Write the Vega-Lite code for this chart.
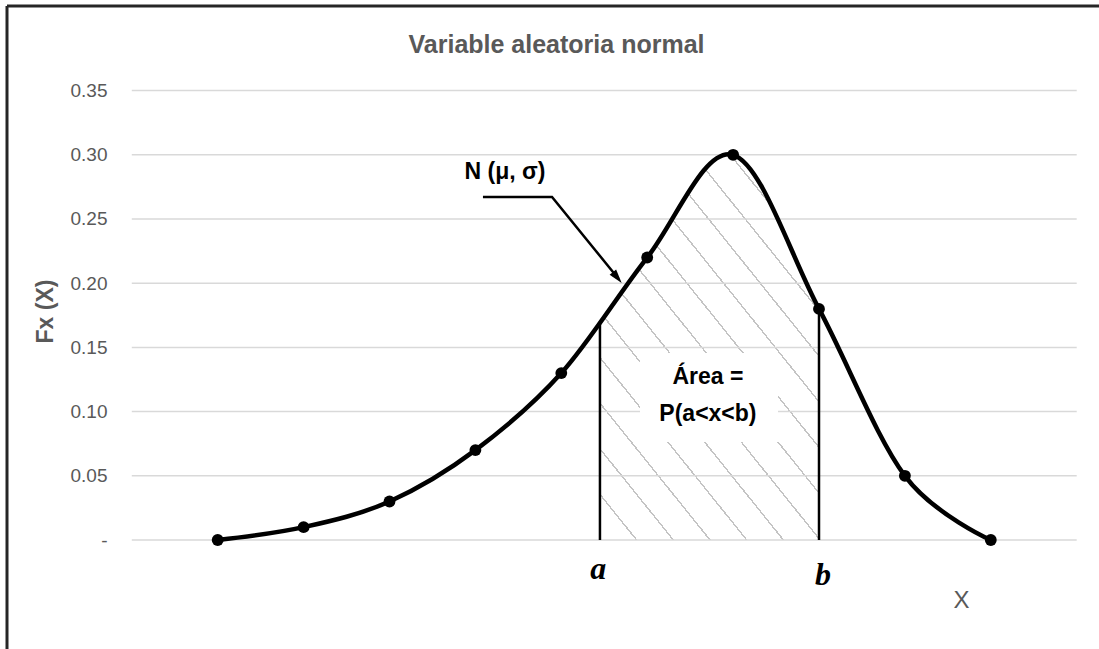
{
  "$schema": "https://vega.github.io/schema/vega-lite/v6.json",
  "width": 1099,
  "height": 649,
  "padding": 0,
  "autosize": {"type": "none"},
  "background": "white",
  "config": {"view": {"stroke": null}},
  "title": {"text": "Variable aleatoria normal", "anchor": "middle", "offset": -78, "baseline": "alphabetic", "fontSize": 25, "font": "Liberation Sans", "fontWeight": "bold", "color": "#595959", "dx": 7},
  "datasets": {
    "curve": [
      {"x": 1, "y": 0.0},
      {"x": 2, "y": 0.01},
      {"x": 3, "y": 0.03},
      {"x": 4, "y": 0.07},
      {"x": 5, "y": 0.13},
      {"x": 6, "y": 0.22},
      {"x": 7, "y": 0.30},
      {"x": 8, "y": 0.18},
      {"x": 9, "y": 0.05},
      {"x": 10, "y": 0.0}
    ],
    "region": [
      {"x": 5.45, "y": 0.169},
      {"x": 6, "y": 0.22},
      {"x": 7, "y": 0.30},
      {"x": 8, "y": 0.18}
    ],
    "bounds": [
      {"x": 5.45, "y": 0, "y2": 0.168},
      {"x": 8.0, "y": 0, "y2": 0.18}
    ],
    "grid": [
      {"x": 0, "x2": 11, "y": 0},
      {"x": 0, "x2": 11, "y": 0.05},
      {"x": 0, "x2": 11, "y": 0.10},
      {"x": 0, "x2": 11, "y": 0.15},
      {"x": 0, "x2": 11, "y": 0.20},
      {"x": 0, "x2": 11, "y": 0.25},
      {"x": 0, "x2": 11, "y": 0.30},
      {"x": 0, "x2": 11, "y": 0.35}
    ],
    "frame": [
      {"x": -1.4528, "x2": 11.4, "y": 0.4159, "y2": 0.4159},
      {"x": -1.4528, "x2": -1.4528, "y": -0.1, "y2": 0.4159}
    ],
    "box": [
      {"x": 5.916, "x2": 7.523, "y": 0.0763, "y2": 0.1456}
    ],
    "leader": [
      {"o": 1, "x": 4.088, "y": 0.2671},
      {"o": 2, "x": 4.892, "y": 0.2671},
      {"o": 3, "x": 5.668, "y": 0.2033}
    ],
    "tip": [
      {"x": 5.703, "y": 0.2002}
    ],
    "boldText": [
      {"label": "N (μ, σ)", "x": 4.345, "y": 0.2866},
      {"label": "Área =", "x": 6.707, "y": 0.1266},
      {"label": "P(a<x<b)", "x": 6.707, "y": 0.0981}
    ],
    "mathText": [
      {"label": "a", "x": 5.43, "y": -0.0306},
      {"label": "b", "x": 8.046, "y": -0.035}
    ]
  },
  "encoding": {
    "x": {
      "field": "x", "type": "quantitative",
      "scale": {"domain": [-1.5343, 11.2596], "nice": false, "zero": false},
      "axis": {"labels": false, "ticks": false, "domain": false, "grid": false, "title": "X", "titleX": 961, "titleY": -49, "titleFont": "Liberation Sans", "titleFontSize": 24, "titleFontWeight": "normal", "titleColor": "#595959", "titleBaseline": "middle", "titleAlign": "center"}
    },
    "y": {
      "field": "y", "type": "quantitative",
      "scale": {"domain": [-0.08489, 0.42056], "nice": false, "zero": false},
      "axis": {
        "values": [0, 0.05, 0.1, 0.15, 0.2, 0.25, 0.3, 0.35],
        "labelExpr": "datum.value == 0 ? '-' : format(datum.value, '.2f')",
        "offset": -107, "domain": false, "ticks": false, "tickSize": 0, "labelPadding": 0, "grid": false,
        "labelFont": "Liberation Sans", "labelFontSize": 19, "labelColor": "#595959",
        "title": "Fx (X)", "titleFont": "Liberation Sans", "titleFontSize": 23, "titleFontWeight": "bold", "titleColor": "#595959",
        "titleX": -62, "titleY": 311, "titleAngle": 270, "titleAlign": "center", "titleBaseline": "middle"
      }
    }
  },
  "layer": [
    {
      "data": {"name": "region"},
      "mark": {
        "type": "area", "interpolate": "cardinal",
        "fill": {
          "gradient": "linear", "x1": 0, "y1": 1, "x2": 0.8034, "y2": -0.1387,
          "stops": [
            {"offset": 0, "color": "#ffffff"},
            {"offset": 0.06755, "color": "#ffffff"}, {"offset": 0.06755, "color": "#c4c4c4"}, {"offset": 0.07105, "color": "#c4c4c4"}, {"offset": 0.07105, "color": "#ffffff"},
            {"offset": 0.13685, "color": "#ffffff"}, {"offset": 0.13685, "color": "#c4c4c4"}, {"offset": 0.14035, "color": "#c4c4c4"}, {"offset": 0.14035, "color": "#ffffff"},
            {"offset": 0.20615, "color": "#ffffff"}, {"offset": 0.20615, "color": "#c4c4c4"}, {"offset": 0.20965, "color": "#c4c4c4"}, {"offset": 0.20965, "color": "#ffffff"},
            {"offset": 0.27545, "color": "#ffffff"}, {"offset": 0.27545, "color": "#c4c4c4"}, {"offset": 0.27895, "color": "#c4c4c4"}, {"offset": 0.27895, "color": "#ffffff"},
            {"offset": 0.34475, "color": "#ffffff"}, {"offset": 0.34475, "color": "#c4c4c4"}, {"offset": 0.34825, "color": "#c4c4c4"}, {"offset": 0.34825, "color": "#ffffff"},
            {"offset": 0.41405, "color": "#ffffff"}, {"offset": 0.41405, "color": "#c4c4c4"}, {"offset": 0.41755, "color": "#c4c4c4"}, {"offset": 0.41755, "color": "#ffffff"},
            {"offset": 0.48335, "color": "#ffffff"}, {"offset": 0.48335, "color": "#c4c4c4"}, {"offset": 0.48685, "color": "#c4c4c4"}, {"offset": 0.48685, "color": "#ffffff"},
            {"offset": 0.55265, "color": "#ffffff"}, {"offset": 0.55265, "color": "#c4c4c4"}, {"offset": 0.55615, "color": "#c4c4c4"}, {"offset": 0.55615, "color": "#ffffff"},
            {"offset": 0.62195, "color": "#ffffff"}, {"offset": 0.62195, "color": "#c4c4c4"}, {"offset": 0.62545, "color": "#c4c4c4"}, {"offset": 0.62545, "color": "#ffffff"},
            {"offset": 0.69125, "color": "#ffffff"}, {"offset": 0.69125, "color": "#c4c4c4"}, {"offset": 0.69475, "color": "#c4c4c4"}, {"offset": 0.69475, "color": "#ffffff"},
            {"offset": 0.76055, "color": "#ffffff"}, {"offset": 0.76055, "color": "#c4c4c4"}, {"offset": 0.76405, "color": "#c4c4c4"}, {"offset": 0.76405, "color": "#ffffff"},
            {"offset": 0.82985, "color": "#ffffff"}, {"offset": 0.82985, "color": "#c4c4c4"}, {"offset": 0.83335, "color": "#c4c4c4"}, {"offset": 0.83335, "color": "#ffffff"},
            {"offset": 0.89915, "color": "#ffffff"}, {"offset": 0.89915, "color": "#c4c4c4"}, {"offset": 0.90265, "color": "#c4c4c4"}, {"offset": 0.90265, "color": "#ffffff"},
            {"offset": 0.96845, "color": "#ffffff"}, {"offset": 0.96845, "color": "#c4c4c4"}, {"offset": 0.97195, "color": "#c4c4c4"}, {"offset": 0.97195, "color": "#ffffff"},
            {"offset": 1, "color": "#ffffff"}
          ]
        }
      },
      "encoding": {"y2": {"datum": 0}}
    },
    {
      "data": {"name": "grid"},
      "mark": {"type": "rule", "color": "#d9d9d9", "strokeWidth": 1.5},
      "encoding": {"x2": {"field": "x2"}}
    },
    {
      "data": {"name": "frame"},
      "mark": {"type": "rule", "color": "#262626", "strokeWidth": 3},
      "encoding": {"x2": {"field": "x2"}, "y2": {"field": "y2"}}
    },
    {
      "data": {"name": "box"},
      "mark": {"type": "rect", "color": "#ffffff"},
      "encoding": {"x2": {"field": "x2"}, "y2": {"field": "y2"}}
    },
    {
      "data": {"name": "bounds"},
      "mark": {"type": "rule", "color": "#000000", "strokeWidth": 2.5},
      "encoding": {"y2": {"field": "y2"}}
    },
    {
      "data": {"name": "curve"},
      "mark": {"type": "line", "interpolate": "cardinal", "color": "#000000", "strokeWidth": 4.5}
    },
    {
      "data": {"name": "curve"},
      "mark": {"type": "point", "filled": true, "color": "#000000", "size": 140, "opacity": 1}
    },
    {
      "data": {"name": "leader"},
      "mark": {"type": "line", "color": "#000000", "strokeWidth": 2.5},
      "encoding": {"order": {"field": "o", "type": "quantitative"}}
    },
    {
      "data": {"name": "tip"},
      "mark": {"type": "point", "shape": "M0,0L-0.3,-1L0.3,-1Z", "filled": true, "color": "#000000", "size": 784, "angle": 321, "opacity": 1, "strokeWidth": 0}
    },
    {
      "data": {"name": "boldText"},
      "mark": {"type": "text", "font": "Liberation Sans", "fontSize": 23, "fontWeight": "bold", "color": "#000000", "align": "center", "baseline": "middle"},
      "encoding": {"text": {"field": "label"}}
    },
    {
      "data": {"name": "mathText"},
      "mark": {"type": "text", "font": "Liberation Serif", "fontSize": 32, "fontWeight": "bold", "fontStyle": "italic", "color": "#000000", "align": "center", "baseline": "alphabetic"},
      "encoding": {"text": {"field": "label"}}
    }
  ]
}
